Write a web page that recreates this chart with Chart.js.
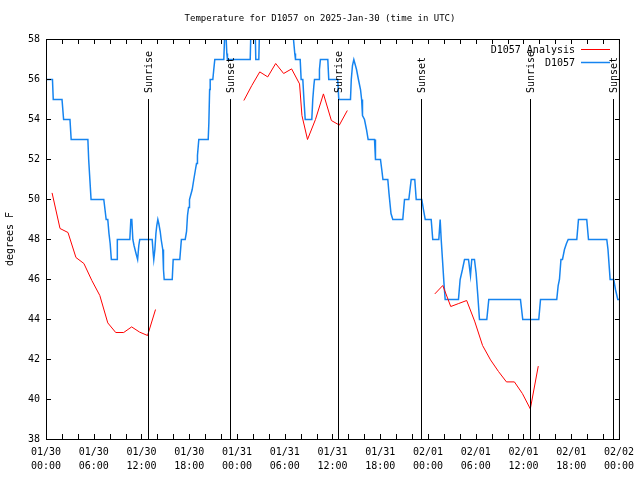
<!DOCTYPE html>
<html>
<head>
<meta charset="utf-8">
<script src="https://cdn.jsdelivr.net/npm/chart.js@4.4.1/dist/chart.umd.min.js"></script>
<style>
  html, body { margin: 0; padding: 0; background: #fff; }
</style>
</head>
<body>
<canvas id="temp-chart" width="640" height="480"></canvas>
<script>
const titleText = "Temperature for D1057 on 2025-Jan-30 (time in UTC)";
const yLabel = "degrees F";

// x axis is hours since 01/30 00:00 UTC
const tickDays = ["01/30", "01/30", "01/30", "01/30", "01/31", "01/31", "01/31", "01/31", "02/01", "02/01", "02/01", "02/01", "02/02"];
const tickTimes = ["00:00", "06:00", "12:00", "18:00", "00:00", "06:00", "12:00", "18:00", "00:00", "06:00", "12:00", "18:00", "00:00"];

const sunriseHours = [12.77, 36.75, 60.8];
const sunsetHours = [23.06, 47.14, 71.22];

// observed station temps
const obsHours = [
  0, 0.75, 0.85, 1.95, 2.15, 2.95, 3.1, 5.2, 5.3, 5.45, 5.6, 7.2, 7.35, 7.5, 7.7, 7.85, 8.0, 8.15, 8.8, 8.9,
  10.47, 10.6, 10.72, 10.85, 11.0, 11.25, 11.45, 11.6, 11.72, 13.28, 13.41, 13.48, 13.62, 13.75, 13.86, 13.99,
  14.11, 14.29, 14.41, 14.61, 14.7, 14.79, 15.8, 15.92, 16.75, 16.95, 17.43, 17.6, 17.72, 17.85, 17.97, 18.31,
  18.51, 18.72, 18.85, 18.97, 19.14, 20.32, 20.4, 20.5, 20.57, 20.9, 21.02, 21.15, 22.28, 22.4, 22.55, 22.66,
  22.74, 25.6, 25.72, 26.2, 26.3, 26.68, 26.8, 30.95, 31.04, 31.2, 31.29, 31.88, 32.0, 32.21, 32.35, 32.51,
  33.34, 33.46, 33.6, 33.68, 34.2, 34.3, 34.42, 35.35, 35.47, 36.6, 36.73, 38.2, 38.3, 38.45, 38.62, 38.96,
  39.2, 39.46, 39.6, 39.71, 39.96, 40.21, 40.42, 41.22, 41.34, 41.97, 42.13, 42.28, 42.89, 43.04, 43.29, 43.52,
  44.77, 44.99, 45.53, 45.83, 46.28, 46.46, 47.16, 47.37, 47.59, 48.34, 48.54, 49.3, 49.47, 49.6, 49.76, 49.95,
  50.1, 51.77, 51.98, 52.27, 52.53, 53.03, 53.28, 53.44, 53.78, 53.99, 54.2, 54.41, 55.33, 55.58, 59.56, 59.85,
  61.86, 62.08, 64.12, 64.3, 64.46, 64.65, 64.84, 65.09, 65.34, 65.56, 66.64, 66.85, 67.89, 68.11, 70.41, 70.56,
  70.83, 71.28, 71.5, 71.79, 72
];
const obsTemps = [
  56, 56, 55, 55, 54, 54, 53, 53, 52, 51, 50, 50, 49.5, 49, 49, 48.3, 47.8, 47, 47, 48,
  48, 49, 49, 48, 47.7, 47.3, 47, 47.7, 48, 48, 47.3, 47, 47.5, 48.3, 48.7, 49,
  48.8, 48.4, 48, 47.5, 46.5, 46, 46, 47, 47, 48, 48, 48.4, 49.2, 49.6, 50, 50.5,
  51, 51.5, 51.8, 52.2, 53, 53, 53.8, 55.5, 56, 56, 56.5, 57, 57, 58.3, 58.3, 57.3,
  57, 57, 59, 59, 57, 57, 59, 59, 58, 57.3, 57, 57, 56, 56, 55, 54,
  54, 55, 55.7, 56, 56, 56.5, 57, 57, 56, 56, 55, 55, 56, 56.7, 57, 56.5,
  56, 55.5, 55, 54.2, 54, 53.5, 53, 53, 52, 52, 51.5, 51, 51, 50.3, 49.3, 49,
  49, 50, 50, 51, 51, 50, 50, 49.5, 49, 49, 48, 48, 49, 48, 47, 45.8,
  45, 45, 46, 46.5, 47, 47, 46.2, 47, 47, 46.3, 45.2, 44, 44, 45, 45, 44,
  44, 45, 45, 45.7, 46, 47, 47, 47.5, 47.8, 48, 48, 49, 49, 48, 48, 47.5,
  46, 46, 45.5, 45, 45
];

// analysis temps, null = gap
const anaHours = [
  0.7, 1.7, 2.7, 3.7, 4.7, 5.7, 6.7, 7.7, 8.7, 9.7, 10.7, 11.7, 12.7, 13.7,
  19,
  24.8, 25.8, 26.8, 27.8, 28.8, 29.8, 30.8, 31.8, 32.1, 32.8, 33.8, 34.8, 35.8, 36.8, 37.8,
  43,
  48.8, 49.8, 50.8, 51.8, 52.8, 53.8, 54.8, 55.8, 56.8, 57.8, 58.8, 59.8, 60.8, 61.8
];
const anaTemps = [
  50.33, 48.55, 48.35, 47.1, 46.8, 45.95, 45.2, 43.83, 43.35, 43.35, 43.63, 43.37, 43.2, 44.5,
  null,
  54.95, 55.7, 56.38, 56.13, 56.8, 56.3, 56.53, 55.78, 54.2, 53.0, 54.0, 55.28, 53.95, 53.72, 54.45,
  null,
  45.28, 45.7, 44.65, 44.8, 44.95, 43.92, 42.7, 41.98, 41.4, 40.88, 40.88, 40.3, 39.53, 41.67
];

const FONT = "DejaVu Sans Mono";
const RED = "#ff0000";
const BLUE = "#1584f0";

function toPoints(xs, ys) {
  return xs.map((x, i) => ({ x: x, y: ys[i] }));
}

// crisp 1px lines like the gnuplot original
const crispLines = {
  id: "crispLines",
  beforeDatasetsDraw(chart) {
    chart.ctx.save();
    chart.ctx.translate(0.5, 0.5);
  },
  afterDatasetsDraw(chart) {
    chart.ctx.restore();
  },
};

const decorations = {
  id: "decorations",
  afterDraw(chart) {
    const { ctx, chartArea: a, scales } = chart;
    const xs = scales.x;
    const ys = scales.y;
    ctx.save();
    ctx.strokeStyle = "#000";
    ctx.lineWidth = 1;
    ctx.strokeRect(a.left + 0.5, a.top + 0.5, a.right - a.left, a.bottom - a.top);

    // inward ticks
    ctx.beginPath();
    ys.ticks.forEach((t) => {
      const py = Math.round(ys.getPixelForValue(t.value)) + 0.5;
      ctx.moveTo(a.left, py);
      ctx.lineTo(a.left + 5, py);
      ctx.moveTo(a.right + 1, py);
      ctx.lineTo(a.right - 4, py);
    });
    for (let h = 0; h <= 72; h += 2) {
      const px = Math.round(xs.getPixelForValue(h)) + 0.5;
      ctx.moveTo(px, a.bottom);
      ctx.lineTo(px, a.bottom - 5);
      ctx.moveTo(px, a.top);
      ctx.lineTo(px, a.top + 5);
    }
    ctx.stroke();

    // sunrise / sunset markers
    ctx.font = "10px '" + FONT + "'";
    ctx.fillStyle = "#000";
    const marks = sunriseHours.map((h) => [h, "Sunrise"]).concat(sunsetHours.map((h) => [h, "Sunset"]));
    marks.forEach(([h, label]) => {
      const px = Math.round(xs.getPixelForValue(h)) + 0.5;
      ctx.beginPath();
      ctx.moveTo(px, 99);
      ctx.lineTo(px, a.bottom);
      ctx.stroke();
      ctx.save();
      ctx.translate(px + 0.5, 93);
      ctx.rotate(-Math.PI / 2);
      ctx.textAlign = "left";
      ctx.textBaseline = "middle";
      ctx.fillText(label, 0, 0);
      ctx.restore();
    });

    // legend
    ctx.textAlign = "right";
    ctx.textBaseline = "middle";
    ctx.fillText("D1057 Analysis", 575, 50);
    ctx.fillText("D1057", 575, 63);
    ctx.lineWidth = 1;
    ctx.strokeStyle = RED;
    ctx.beginPath();
    ctx.moveTo(581, 49.5);
    ctx.lineTo(610, 49.5);
    ctx.stroke();
    ctx.strokeStyle = BLUE;
    ctx.lineWidth = 1.5;
    ctx.beginPath();
    ctx.moveTo(581, 62.5);
    ctx.lineTo(610, 62.5);
    ctx.stroke();

    // y label
    ctx.textAlign = "center";
    ctx.save();
    ctx.translate(10, 239);
    ctx.rotate(-Math.PI / 2);
    ctx.fillText(yLabel, 0, 0);
    ctx.restore();

    // title
    ctx.font = "9px '" + FONT + "'";
    ctx.fillText(titleText, 320, 19);
    ctx.restore();
  },
};

const canvaEl = document.getElementById("temp-chart");

const tempChart = new Chart(canvaEl, {
  type: "line",
  data: {
    datasets: [
      {
        label: "D1057 Analysis",
        data: toPoints(anaHours, anaTemps),
        borderColor: RED,
        borderWidth: 1,
        pointRadius: 0,
        tension: 0,
        spanGaps: false,
      },
      {
        label: "D1057",
        data: toPoints(obsHours, obsTemps),
        borderColor: BLUE,
        borderWidth: 1.5,
        pointRadius: 0,
        tension: 0,
      },
    ],
  },
  options: {
    responsive: false,
    animation: false,
    events: [],
    layout: { padding: { left: 0, right: 20, top: 39, bottom: 0 } },
    plugins: {
      legend: { display: false },
      tooltip: { enabled: false },
      title: { display: false },
    },
    scales: {
      x: {
        type: "linear",
        min: 0,
        max: 72,
        afterFit(scale) {
          scale.height = 41;
        },
        grid: { display: false, drawTicks: false },
        border: { display: true, color: "#000", width: 1 },
        ticks: {
          stepSize: 6,
          autoSkip: false,
          maxRotation: 0,
          padding: 6,
          color: "#000",
          font: { family: FONT, size: 10, lineHeight: 1.4 },
          callback: (v) => [tickDays[v / 6], tickTimes[v / 6]],
        },
      },
      y: {
        min: 38,
        max: 58,
        afterFit(scale) {
          scale.width = 46;
        },
        grid: { display: false, drawTicks: false },
        border: { display: true, color: "#000", width: 1 },
        ticks: {
          stepSize: 2,
          padding: 6,
          color: "#000",
          font: { family: FONT, size: 10 },
        },
      },
    },
  },
  plugins: [crispLines, decorations],
});
</script>
</body>
</html>
